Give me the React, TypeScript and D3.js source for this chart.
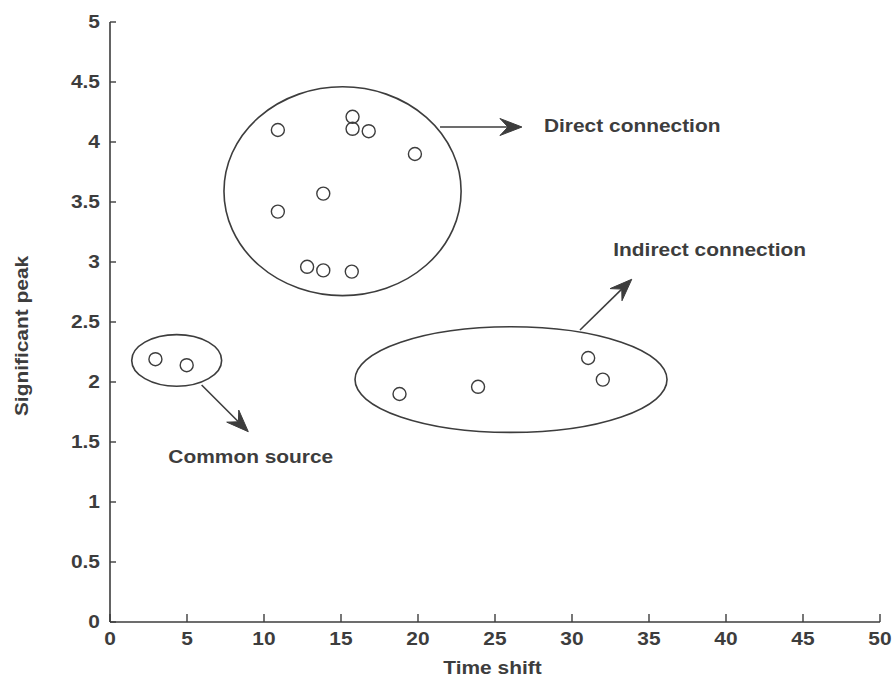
import React from "react";
import * as d3 from "d3";

// ---- Data ----
const timeShift = [2.95, 4.98, 10.9, 15.75, 15.75, 16.8, 19.8, 13.85, 10.9, 12.8, 13.85, 15.7, 18.8, 23.9, 31.05, 32.0];
const peak = [2.19, 2.14, 4.1, 4.21, 4.11, 4.09, 3.9, 3.57, 3.42, 2.96, 2.93, 2.92, 1.9, 1.96, 2.2, 2.02];

const xTicks = [0, 5, 10, 15, 20, 25, 30, 35, 40, 45, 50];
const yTicks = [0, 0.5, 1, 1.5, 2, 2.5, 3, 3.5, 4, 4.5, 5];

// Cluster ellipses (data units): [cx, cy, rx, ry]
const clusterNames = ["Direct", "Indirect", "Common"];
const clusterCx = [15.1, 26.04, 4.33];
const clusterCy = [3.59, 2.02, 2.18];
const clusterRx = [7.7, 10.13, 2.92];
const clusterRy = [0.87, 0.44, 0.215];

// Annotation arrows (data units)
const arrowX1 = [21.43, 30.52, 5.95];
const arrowY1 = [4.125, 2.433, 1.975];
const arrowX2 = [26.75, 33.88, 8.98];
const arrowY2 = [4.125, 2.856, 1.586];

// Annotation labels (data units, left-start, vertical centre)
const labelText = ["Direct connection", "Indirect connection", "Common source"];
const labelX = [28.18, 32.68, 3.79];
const labelY = [4.14, 3.108, 1.383];

const W = 894;
const H = 681;
const INK = "#3d3d3d";
const FONT = "'Liberation Sans', Arial, Helvetica, sans-serif";
const SX = 1.1;

function Txt({ x, y, anchor = "start", rotate = 0, size = 19, children }: any) {
  return (
    <g transform={`translate(${x},${y}) rotate(${rotate}) scale(${SX},1)`}>
      <text
        x={0}
        y={0}
        textAnchor={anchor}
        fontFamily={FONT}
        fontWeight="bold"
        fontSize={size}
        fill={INK}
      >
        {children}
      </text>
    </g>
  );
}

function arrowHead(x1: number, y1: number, x2: number, y2: number) {
  const dx = x2 - x1;
  const dy = y2 - y1;
  const len = Math.sqrt(dx * dx + dy * dy);
  const ux = dx / len;
  const uy = dy / len;
  const px = -uy;
  const py = ux;
  const L = 22;
  const Wd = 8.5;
  const notch = 14;
  const bx = x2 - ux * L;
  const by = y2 - uy * L;
  const nx = x2 - ux * notch;
  const ny = y2 - uy * notch;
  return `M${x2},${y2}L${bx + px * Wd},${by + py * Wd}L${nx},${ny}L${bx - px * Wd},${by - py * Wd}Z`;
}

export default function App() {
  const x = d3.scaleLinear().domain([0, 50]).range([110, 880]);
  const y = d3.scaleLinear().domain([0, 5]).range([622, 22]);

  return (
    <svg
      width={W}
      height={H}
      style={{ position: "absolute", left: 0, top: 0, background: "#fff" }}
    >
      <rect width={W} height={H} fill="#fff" />
      {/* Axes */}
      <line x1={x(0)} x2={x(0)} y1={y(0)} y2={y(5)} stroke={INK} strokeWidth={1.6} />
      <line x1={x(0)} x2={x(50)} y1={y(0)} y2={y(0)} stroke={INK} strokeWidth={1.6} />
      {yTicks.map((t) => (
        <g key={"y" + t}>
          <line x1={x(0)} x2={x(0) + 6} y1={y(t)} y2={y(t)} stroke={INK} strokeWidth={1.4} />
          <Txt x={100} y={y(t) + 5.5} anchor="end">
            {String(t)}
          </Txt>
        </g>
      ))}
      {xTicks.map((t) => (
        <g key={"x" + t}>
          <line x1={x(t)} x2={x(t)} y1={y(0)} y2={y(0) - 8} stroke={INK} strokeWidth={1.4} />
          <Txt x={x(t)} y={645} anchor="middle">
            {String(t)}
          </Txt>
        </g>
      ))}
      {/* Axis titles */}
      <Txt x={492.5} y={674} anchor="middle">
        Time shift
      </Txt>
      <Txt x={28} y={336} anchor="middle" rotate={-90}>
        Significant peak
      </Txt>

      {/* Cluster ellipses */}
      {clusterNames.map((n, i) => (
        <ellipse
          key={n}
          cx={x(clusterCx[i])}
          cy={y(clusterCy[i])}
          rx={x(clusterCx[i] + clusterRx[i]) - x(clusterCx[i])}
          ry={y(clusterCy[i] - clusterRy[i]) - y(clusterCy[i])}
          fill="none"
          stroke={INK}
          strokeWidth={1.6}
        />
      ))}

      {/* Points */}
      {timeShift.map((t, i) => (
        <circle
          key={"p" + i}
          cx={x(t)}
          cy={y(peak[i])}
          r={6.5}
          fill="none"
          stroke={INK}
          strokeWidth={1.4}
        />
      ))}

      {/* Arrows */}
      {arrowX1.map((_, i) => {
        const x1 = x(arrowX1[i]);
        const y1 = y(arrowY1[i]);
        const x2 = x(arrowX2[i]);
        const y2 = y(arrowY2[i]);
        const dx = x2 - x1;
        const dy = y2 - y1;
        const len = Math.sqrt(dx * dx + dy * dy);
        const ex = x2 - (dx / len) * 14;
        const ey = y2 - (dy / len) * 14;
        return (
          <g key={"a" + i}>
            <line x1={x1} y1={y1} x2={ex} y2={ey} stroke={INK} strokeWidth={1.6} />
            <path d={arrowHead(x1, y1, x2, y2)} fill={INK} stroke={INK} strokeWidth={1} />
          </g>
        );
      })}

      {/* Annotation labels */}
      {labelText.map((l, i) => (
        <Txt key={l} x={x(labelX[i])} y={y(labelY[i]) + 6.5} anchor="start">
          {l}
        </Txt>
      ))}
    </svg>
  );
}
